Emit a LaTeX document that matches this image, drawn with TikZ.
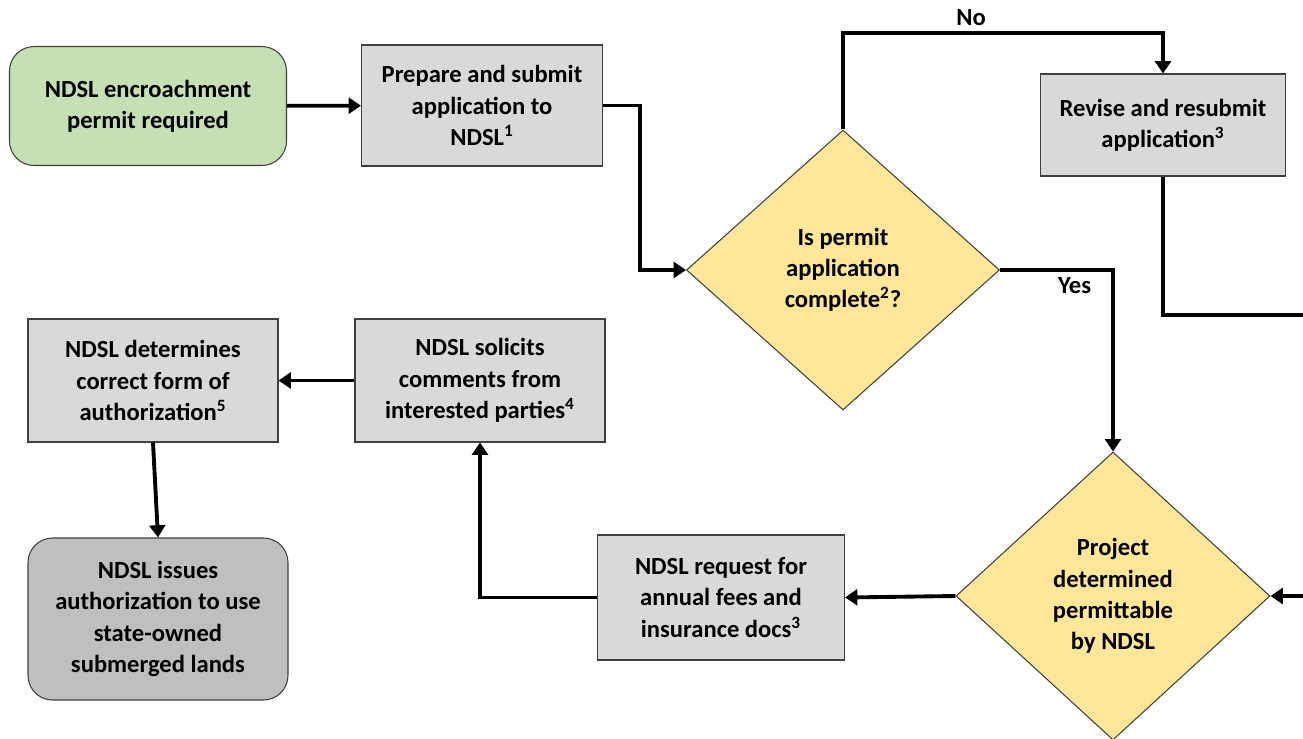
\documentclass[tikz,border=0pt]{standalone}
\usepackage{fontspec}
\setmainfont{Carlito}
\usepackage{xcolor}
\usetikzlibrary{arrows.meta,shapes.geometric}

\definecolor{startgreen}{HTML}{C5E0B4}
\definecolor{procgray}{HTML}{D9D9D9}
\definecolor{endgray}{HTML}{BFBFBF}
\definecolor{decideyellow}{HTML}{FFE699}

\begin{document}
\begin{tikzpicture}[
  font=\fontsize{14}{17.8}\selectfont\bfseries,
  shape box/.style={draw=black!75, line width=0.6pt, align=center, inner sep=4pt},
  proc/.style={shape box, fill=procgray},
  term/.style={shape box, rounded corners=14pt},
  decide/.style={shape box, diamond, fill=decideyellow, inner sep=0pt},
  arr/.style={-{Triangle[length=7pt,width=9pt]}, line width=2.2pt},
  conn/.style={line width=2.2pt}
]
\useasboundingbox (0,0) rectangle (26.06,-14.78);
\node[term, fill=startgreen, minimum width=5.54cm, minimum height=2.38cm] (start) at (2.96,-2.12) {NDSL encroachment\\permit required};
\node[proc, minimum width=4.82cm, minimum height=2.42cm] (prep) at (9.64,-2.11) {Prepare and submit\\application to\\NDSL\textsuperscript{1}};
\node[decide, minimum width=6.26cm, minimum height=5.6cm] (check) at (16.86,-5.4) {Is permit\\application\\complete\textsuperscript{2}?};
\node[proc, minimum width=4.9cm, minimum height=2.04cm] (revise) at (23.26,-2.5) {Revise and resubmit\\application\textsuperscript{3}};
\node[decide, minimum width=6.28cm, minimum height=5.76cm] (permit) at (22.26,-11.92) {Project\\determined\\permittable\\by NDSL};
\node[proc, minimum width=4.94cm, minimum height=2.5cm] (fees) at (14.42,-11.95) {NDSL request for\\annual fees and\\insurance docs\textsuperscript{3}};
\node[proc, minimum width=5cm, minimum height=2.46cm] (solicit) at (9.6,-7.61) {NDSL solicits\\comments from\\interested parties\textsuperscript{4}};
\node[proc, minimum width=5cm, minimum height=2.46cm] (form) at (3.06,-7.61) {NDSL determines\\correct form of\\authorization\textsuperscript{5}};
\node[term, fill=endgray, minimum width=5.2cm, minimum height=3.24cm] (issue) at (3.16,-12.38) {NDSL issues\\authorization to use\\state-owned\\submerged lands};

% loose ends at the right border
\coordinate (noTop) at (16.86,-0.66);
\coordinate (reviseOut) at (26.06,-6.3);
\coordinate (permitIn) at (26.06,-11.92);

\draw[arr] (start) -- (prep);
\draw[arr] (prep.east) -- ++(0.74,0) |- (check.west);
\draw[arr] (check.north) -- (noTop) -| node[pos=0.2, above] {No} (revise.north);
\draw[conn] (revise.south) |- (reviseOut);
\draw[arr] (check.east) -| node[pos=0.33, below] {Yes} (permit.north);
\draw[arr] (permitIn) -- (permit.east);
\draw[arr] (permit.west) -- (fees.east);
\draw[arr] (fees.west) -| (solicit.south);
\draw[arr] (solicit) -- (form);
\draw[arr] (form.south) -- (issue.north);
\end{tikzpicture}
\end{document}
